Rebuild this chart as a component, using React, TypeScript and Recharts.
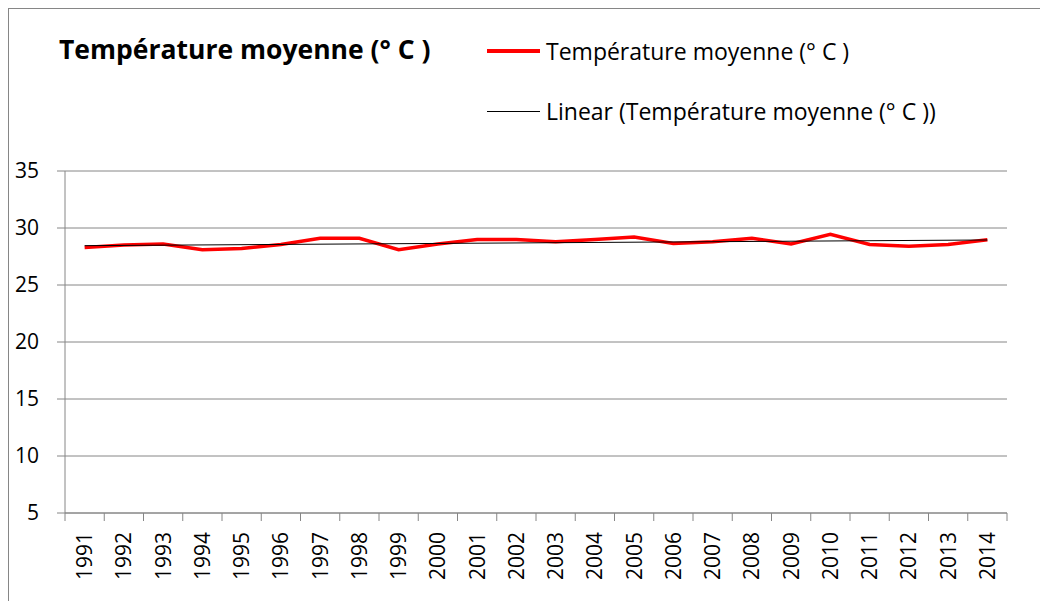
import React from "react";
import { LineChart, Line, XAxis, YAxis, CartesianGrid } from "recharts";

// Years shown on the category axis
const years = [
  1991, 1992, 1993, 1994, 1995, 1996, 1997, 1998, 1999, 2000, 2001, 2002,
  2003, 2004, 2005, 2006, 2007, 2008, 2009, 2010, 2011, 2012, 2013, 2014,
];

// Mean temperature (° C)
const temperature = [
  28.3, 28.5, 28.6, 28.1, 28.2, 28.55, 29.1, 29.1, 28.1, 28.6, 29.0, 29.0,
  28.8, 29.0, 29.2, 28.65, 28.8, 29.1, 28.6, 29.45, 28.55, 28.4, 28.55, 28.97,
];

// Linear trend line: value at first and last year
const trendEnds = [28.45, 28.95];

const yTicks = [5, 10, 15, 20, 25, 30, 35];

const seriesName = "Température moyenne (° C )";
const trendName = "Linear (Température moyenne (° C ))";

const data = years.map((year, i) => ({
  year,
  temp: temperature[i],
  trend: i === 0 ? trendEnds[0] : i === years.length - 1 ? trendEnds[1] : null,
}));

// tick marks sit between the years, like Excel does
const boundaries = [...years.map((y) => y - 0.5), years[years.length - 1] + 0.5];

const FONT = "'Open Sans', sans-serif";
const CHART_W = 1040;
const CHART_H = 593;
const MARGIN = { top: 162, right: 41, left: 0, bottom: 0 };
const Y_AXIS_W = 56;
const HALF_BAND = (CHART_W - 1 - MARGIN.right - Y_AXIS_W) / years.length / 2;

const YearTick = ({ x, y, payload }: any) => {
  const year = Math.round(payload.value + 0.5);
  if (year > years[years.length - 1]) return null;
  const cx = x + HALF_BAND;
  return (
    <text
      x={cx}
      y={y}
      dy="0.36em"
      textAnchor="end"
      fontSize={21}
      fontFamily={FONT}
      fill="#000"
      transform={`rotate(-90, ${cx}, ${y})`}
    >
      {year}
    </text>
  );
};

const LegendRow = ({ color, thickness, label, top }: any) => (
  <div
    style={{
      position: "absolute",
      left: 478,
      top,
      display: "flex",
      alignItems: "center",
      fontFamily: FONT,
      fontSize: 23,
      whiteSpace: "nowrap",
      color: "#000",
    }}
  >
    <span style={{ display: "inline-block", width: 53, height: thickness, background: color, marginRight: 6 }} />
    {label}
  </div>
);

export default function App() {
  return (
    <div
      style={{
        position: "relative",
        width: CHART_W,
        height: CHART_H,
        borderLeft: "1px solid #868686",
        borderTop: "1px solid #868686",
        boxSizing: "border-box",
        background: "#fff",
      }}
    >
      <div
        style={{
          position: "absolute",
          left: 50,
          top: 22,
          fontFamily: FONT,
          fontWeight: 700,
          fontSize: 26.5,
          whiteSpace: "nowrap",
          color: "#000",
        }}
      >
        {seriesName}
      </div>
      <LegendRow color="#FF0000" thickness={4} label={seriesName} top={26} />
      <LegendRow color="#000" thickness={1} label={trendName} top={86} />
      <LineChart width={CHART_W - 1} height={CHART_H - 1} data={data} margin={MARGIN}>
        <CartesianGrid horizontal vertical={false} stroke="#868686" />
        <XAxis
          dataKey="year"
          type="number"
          domain={[boundaries[0], boundaries[boundaries.length - 1]]}
          ticks={boundaries}
          interval={0}
          height={88}
          stroke="#868686"
          tickSize={8}
          tickMargin={11}
          tick={<YearTick />}
        />
        <YAxis
          domain={[5, 35]}
          ticks={yTicks}
          interval={0}
          width={Y_AXIS_W}
          stroke="#868686"
          tickSize={8}
          tickMargin={18}
          tick={{ fill: "#000", fontSize: 21, fontFamily: FONT }}
        />
        <Line
          dataKey="temp"
          name={seriesName}
          stroke="#FF0000"
          strokeWidth={3.5}
          dot={false}
          isAnimationActive={false}
        />
        <Line
          dataKey="trend"
          name={trendName}
          stroke="#000"
          strokeWidth={1}
          dot={false}
          connectNulls
          isAnimationActive={false}
        />
      </LineChart>
    </div>
  );
}
